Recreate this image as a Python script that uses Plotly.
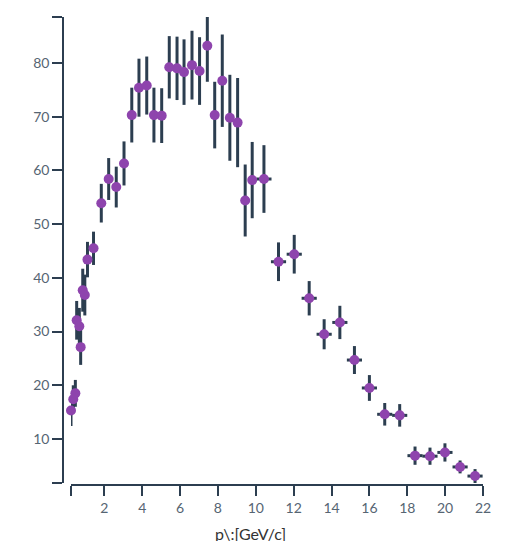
import plotly.graph_objects as go

# data
p_vals = [0.24, 0.36, 0.47, 0.54, 0.68, 0.75, 0.86, 0.97, 1.11, 1.43,
          1.84, 2.23, 2.63, 3.04, 3.45, 3.83, 4.24, 4.62, 5.03, 5.43,
          5.84, 6.21, 6.63, 7.03, 7.44, 7.83, 8.23, 8.63, 9.04, 9.44,
          9.81, 10.43, 11.2, 12.03, 12.82, 13.61, 14.44, 15.21, 16.0, 16.81,
          17.6, 18.41, 19.2, 19.99, 20.79, 21.58]
y_vals = [15.3, 17.4, 18.5, 32.1, 31.0, 27.1, 37.7, 36.8, 43.4, 45.5,
          53.9, 58.4, 56.9, 61.3, 70.3, 75.4, 75.8, 70.3, 70.2, 79.2,
          79.0, 78.3, 79.6, 78.5, 83.2, 70.3, 76.7, 69.8, 68.9, 54.4,
          58.2, 58.4, 43.0, 44.4, 36.2, 29.5, 31.7, 24.7, 19.5, 14.6,
          14.4, 6.9, 6.8, 7.5, 4.8, 3.1]
y_err = [2.9, 2.6, 2.5, 3.6, 3.4, 3.3, 4.0, 3.8, 3.3, 3.1,
         3.6, 3.9, 3.8, 4.1, 5.1, 5.4, 5.4, 5.1, 5.1, 5.8,
         5.9, 6.1, 6.4, 6.3, 6.7, 6.2, 8.6, 8.0, 8.3, 6.7,
         7.1, 6.3, 3.6, 3.6, 3.2, 2.8, 3.1, 2.6, 2.4, 2.1,
         2.1, 1.7, 1.6, 1.7, 1.2, 1.3]
x_err = [0.0] * 31 + [0.4] * 15

x_ticks = [0.24, 2, 4, 6, 8, 10, 12, 14, 16, 18, 20, 22]
x_ticktext = ["", "2", "4", "6", "8", "10", "12", "14", "16", "18", "20", "22"]
y_ticks = [1.81, 10, 20, 30, 40, 50, 60, 70, 80, 88.56]
y_ticktext = ["", "10", "20", "30", "40", "50", "60", "70", "80", ""]

axis_col = "#2c3e50"
label_col = "#566573"
purple = "#8e44ad"

fig = go.Figure()
fig.add_trace(go.Scatter(
    x=p_vals, y=y_vals, mode="markers",
    marker=dict(size=10, color=purple),
    error_y=dict(type="data", array=y_err, visible=True, thickness=3, width=0, color=axis_col),
    error_x=dict(type="data", array=x_err, visible=True, thickness=3, width=0, color=axis_col),
    cliponaxis=False, showlegend=False,
))

W, H = 505, 541
ml, mr, mt, mb = 63, 22, 17, 56
pw = W - ml - mr
ph = H - mt - mb

fig.update_layout(
    width=W, height=H,
    margin=dict(l=ml, r=mr, t=mt, b=mb, pad=0),
    plot_bgcolor="white", paper_bgcolor="white",
    font=dict(family="Lato", size=14, color=label_col),
    xaxis=dict(
        domain=[(71 - ml) / pw, 1], range=[0.24, 22],
        anchor="free", position=0,
        showline=True, linecolor=axis_col, linewidth=1.5,
        ticks="outside", ticklen=10, tickwidth=1.5, tickcolor=axis_col,
        tickvals=x_ticks, ticktext=x_ticktext,
        showgrid=False, zeroline=False,
        tickfont=dict(family="Lato", size=14, color=label_col),
    ),
    yaxis=dict(
        domain=[2 / ph, 1], range=[1.81, 88.56],
        anchor="free", position=0,
        showline=True, linecolor=axis_col, linewidth=1.5,
        ticks="outside", ticklen=10, tickwidth=1.5, tickcolor=axis_col,
        tickvals=y_ticks, ticktext=y_ticktext,
        showgrid=False, zeroline=False,
        tickfont=dict(family="Lato", size=14, color=label_col),
    ),
    annotations=[dict(
        text="p\\:[GeV/c]", xref="paper", yref="paper",
        x=(250 - ml) / pw, y=-(522 - (H - mb)) / ph,
        xanchor="center", yanchor="top", showarrow=False,
        font=dict(family="Lato", size=16, color="#333333"),
    )],
)

fig.write_html("out.html")
